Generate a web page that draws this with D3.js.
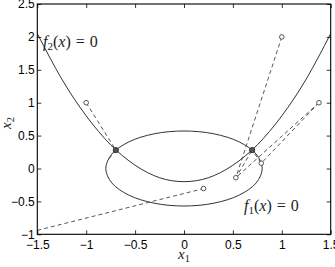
<!DOCTYPE html>
<html><head><meta charset="utf-8">
<script src="https://cdn.jsdelivr.net/npm/d3@7"></script>
<style>body{margin:0;background:#fff}</style>
</head><body>
<svg id="c" width="335" height="267"></svg>
<script>
// ---- data ----
const xTicks = [-1.5, -1, -0.5, 0, 0.5, 1, 1.5];
const xTickLabels = ["\u22121.5", "\u22121", "\u22120.5", "0", "0.5", "1", "1.5"];
const yTicks = [-1, -0.5, 0, 0.5, 1, 1.5, 2, 2.5];
const yTickLabels = ["\u22121", "\u22120.5", "0", "0.5", "1", "1.5", "2", "2.5"];

// f2(x)=0 curve (parabola-like)
const f2X = [-1.5, -1.25, -1, -0.75, -0.5, -0.25, 0, 0.25, 0.5, 0.75, 1, 1.25, 1.5];
const f2Y = [2.05, 1.36, 0.8, 0.36, 0.05, -0.14, -0.2, -0.14, 0.05, 0.36, 0.8, 1.36, 2.05];

// f1(x)=0 curve (closed ellipse-like)
const f1X = [0.8, 0.739, 0.566, 0.306, 0, -0.306, -0.566, -0.739, -0.8, -0.739, -0.566, -0.306, 0, 0.306, 0.566, 0.739];
const f1Y = [0, 0.218, 0.403, 0.527, 0.57, 0.527, 0.403, 0.218, 0, -0.218, -0.403, -0.527, -0.57, -0.527, -0.403, -0.218];

// dashed iteration paths
const iterPaths = [
  [[-1, 1], [-0.697, 0.28]],
  [[-0.697, 0.28], [-0.77, 0.14]],
  [[1, 2], [0.53, -0.14], [0.697, 0.28]],
  [[1.38, 1], [0.53, -0.14]],
  [[1.38, 1], [0.79, 0.08], [0.697, 0.28]],
  [[-1.5, -0.94], [0.2, -0.305]]
];
// small open circle markers
const startPts = [[-1, 1], [1, 2], [1.38, 1], [0.2, -0.305], [0.53, -0.14], [0.79, 0.08]];
// converged points (intersections)
const roots = [[-0.697, 0.28], [0.697, 0.28]];

// ---- layout ----
const W = 335, H = 267;
const m = {left: 37.3, top: 4, right: 4.3, bottom: 32.7};
const pw = W - m.left - m.right, ph = H - m.top - m.bottom;
const svg = d3.select("#c");
const x = d3.scaleLinear().domain([-1.5, 1.5]).range([0, pw]);
const y = d3.scaleLinear().domain([-1, 2.5]).range([ph, 0]);
const g = svg.append("g").attr("transform", `translate(${m.left},${m.top})`);

svg.append("defs").append("clipPath").attr("id", "clip")
  .append("rect").attr("width", pw).attr("height", ph);
const plot = g.append("g").attr("clip-path", "url(#clip)");

// curves
plot.append("path")
  .datum(f2X.map((v, i) => [v, f2Y[i]]))
  .attr("d", d3.line().x(d => x(d[0])).y(d => y(d[1])).curve(d3.curveNatural))
  .attr("fill", "none").attr("stroke", "#333").attr("stroke-width", 1);
plot.append("path")
  .datum(f1X.map((v, i) => [v, f1Y[i]]))
  .attr("d", d3.line().x(d => x(d[0])).y(d => y(d[1])).curve(d3.curveCatmullRomClosed))
  .attr("fill", "none").attr("stroke", "#333").attr("stroke-width", 1);

// dashed paths
const lin = d3.line().x(d => x(d[0])).y(d => y(d[1]));
plot.selectAll(".it").data(iterPaths).enter().append("path")
  .attr("d", lin).attr("fill", "none").attr("stroke", "#444")
  .attr("stroke-width", 0.9).attr("stroke-dasharray", "4,3");

// markers
plot.selectAll(".sp").data(startPts).enter().append("circle")
  .attr("cx", d => x(d[0])).attr("cy", d => y(d[1])).attr("r", 2.3)
  .attr("fill", "#fff").attr("stroke", "#444").attr("stroke-width", 0.9);
plot.selectAll(".rt").data(roots).enter().append("circle")
  .attr("cx", d => x(d[0])).attr("cy", d => y(d[1])).attr("r", 2.6)
  .attr("fill", "#555").attr("stroke", "#222").attr("stroke-width", 0.9);

// axes with inward ticks
const fontSans = "'Liberation Sans', Arial, sans-serif";
const ax = g.append("g").attr("transform", `translate(0,${ph})`)
  .call(d3.axisBottom(x).tickValues(xTicks).tickFormat((d, i) => xTickLabels[i]).tickSizeInner(-4).tickSizeOuter(0).tickPadding(6));
const ay = g.append("g")
  .call(d3.axisLeft(y).tickValues(yTicks).tickFormat((d, i) => yTickLabels[i]).tickSizeInner(-4).tickSizeOuter(0).tickPadding(2.5));
const at = g.append("g")
  .call(d3.axisTop(x).tickValues(xTicks).tickFormat("").tickSizeInner(-4).tickSizeOuter(0));
const ar = g.append("g").attr("transform", `translate(${pw},0)`)
  .call(d3.axisRight(y).tickValues(yTicks).tickFormat("").tickSizeInner(-4).tickSizeOuter(0));
[ax, ay, at, ar].forEach(a => {
  a.select(".domain").remove();
  a.selectAll("line").attr("stroke", "#000").attr("stroke-width", 0.8);
  a.selectAll("text").attr("font-family", fontSans).attr("font-size", 12).attr("fill", "#000");
});
g.append("rect").attr("width", pw).attr("height", ph)
  .attr("fill", "none").attr("stroke", "#000").attr("stroke-width", 1.1);

// math labels
const fontSerif = "'Liberation Serif', 'DejaVu Serif', serif";
function fLabel(px, py, sub) {
  const t = svg.append("text").attr("x", px).attr("y", py)
    .attr("font-family", fontSerif).attr("font-size", 16).attr("fill", "#222");
  t.append("tspan").attr("font-style", "italic").text("f");
  t.append("tspan").attr("font-size", 11).attr("dy", 3).text(sub);
  t.append("tspan").attr("dy", -3).text("(");
  t.append("tspan").attr("font-style", "italic").text("x");
  t.append("tspan").text(")");
  t.append("tspan").attr("dx", 5).text("=");
  t.append("tspan").attr("dx", 5).text("0");
}
fLabel(43, 47, "2");
fLabel(244, 210.5, "1");

// axis titles
const xl = svg.append("text").attr("x", 178).attr("y", 259)
  .attr("font-family", fontSerif).attr("font-size", 15).attr("fill", "#222");
xl.append("tspan").attr("font-style", "italic").text("x");
xl.append("tspan").attr("font-size", 10.5).attr("dy", 3).text("1");

const yl = svg.append("text").attr("transform", "translate(11,129) rotate(-90)")
  .attr("font-family", fontSerif).attr("font-size", 15).attr("fill", "#222");
yl.append("tspan").attr("font-style", "italic").text("x");
yl.append("tspan").attr("font-size", 10.5).attr("dy", 3).text("2");
</script>
</body></html>
